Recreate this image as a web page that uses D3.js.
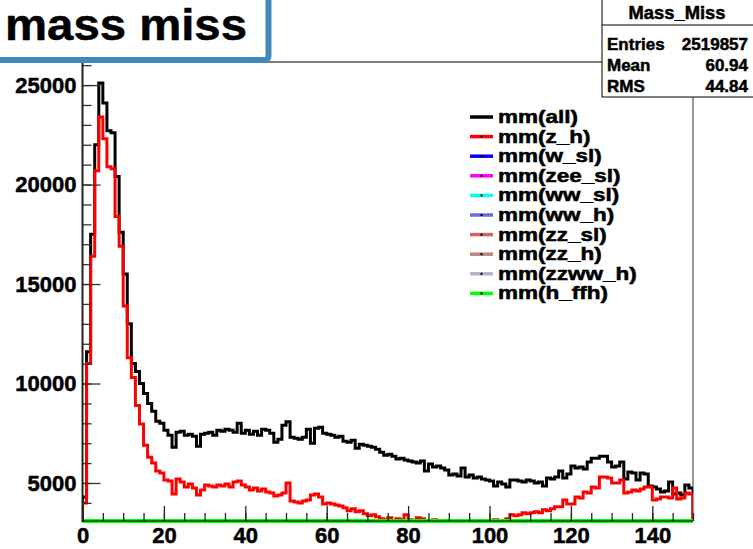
<!DOCTYPE html>
<html><head><meta charset="utf-8">
<script src="https://cdn.jsdelivr.net/npm/d3@7"></script>
<style>
html,body{margin:0;padding:0;background:#fff;}
svg{display:block;}
text{font-family:"Liberation Sans",Arial,Helvetica,sans-serif;font-weight:bold;}
.heavy{stroke:#000;stroke-width:0.5px;paint-order:stroke;}
</style></head>
<body>
<svg id="chart" width="753" height="549"></svg>
<script>
// ---- data ----
const xTicks = [0, 20, 40, 60, 80, 100, 120, 140];
const yTicks = [5000, 10000, 15000, 20000, 25000];
const xDomain = [0, 150];     // 150 bins of width 1
const yDomain = [3090, 26160];

const mmAll = [4300,11600,17500,22000,25100,24100,22700,22600,20400,17600,
15500,13000,11000,10600,10000,9500,9000,8600,8100,8000,
7650,7400,6800,7550,7600,7400,7450,7350,6850,7450,
7500,7550,7400,7650,7600,7700,7650,7550,8000,7500,
7650,7450,7600,7400,7700,7650,7500,7050,7200,7900,
8080,7300,7250,7200,7300,7700,7000,7750,7800,7500,
7450,7400,7300,7350,7100,7050,7150,6750,6950,6900,
6850,6800,6700,6550,6400,6450,6350,6200,6250,6150,
6100,6050,6000,6100,5600,5950,5800,5850,5750,5650,
5400,5450,5350,5750,5300,5400,5250,5300,5200,5150,
5100,4850,5050,4950,4800,5150,5150,5100,5050,5150,
5100,5000,5050,4850,5250,5200,5300,5600,5250,5450,
5850,5750,5800,5700,6050,6250,6250,6350,6350,6050,
5800,5850,6050,5200,5550,5500,5150,5500,5450,4850,
4800,4700,4550,4600,5050,4450,4500,4400,4900,4750];

const mmZH = [4000,11000,16400,20700,23400,22300,20900,20800,18400,16900,
13900,11300,10300,8900,7960,6900,6300,6000,5600,5500,
5150,5100,4450,5200,5050,4800,4950,4750,4400,4650,
4900,4850,4800,4900,4850,4950,4800,5050,5100,4900,
4800,4650,4750,4600,4700,4550,4500,4350,4400,4500,
5000,4100,4050,4000,4100,4150,4400,4450,4300,3950,
4000,3950,3900,3850,3750,3600,3700,3550,3600,3450,
3350,3400,3300,3200,3150,3250,3100,3200,3150,3400,
3150,3100,3250,3200,3100,3050,3150,3050,3000,2950,
2900,2900,2850,2900,2850,2900,2950,2900,3000,2950,
3000,3150,3100,3050,3200,3400,3350,3400,3500,3450,
3500,3550,3500,3650,3600,3700,3800,3800,4150,3950,
3950,4300,4250,4550,4500,4800,4750,5300,5300,5250,
5000,5000,5150,4500,4550,4650,4600,4700,4800,4800,
4150,4200,4300,4300,4250,4750,4200,4250,4500,4450];

// The remaining samples lie entirely below the visible y range (unreadable, drawn clamped at the bottom edge)
const belowRange = [0,0,0,0,0,0,0,0,0,0,0,0,0,0,0,0,0,0,0,0,0,0,0,0,0,0,0,0,0,0,
0,0,0,0,0,0,0,0,0,0,0,0,0,0,0,0,0,0,0,0,0,0,0,0,0,0,0,0,0,0,
0,0,0,0,0,0,0,0,0,0,0,0,0,0,0,0,0,0,0,0,0,0,0,0,0,0,0,0,0,0,
0,0,0,0,0,0,0,0,0,0,0,0,0,0,0,0,0,0,0,0,0,0,0,0,0,0,0,0,0,0,
0,0,0,0,0,0,0,0,0,0,0,0,0,0,0,0,0,0,0,0,0,0,0,0,0,0,0,0,0,0];

const seriesNames = ["mm(all)","mm(z_h)","mm(w_sl)","mm(zee_sl)","mm(ww_sl)","mm(ww_h)","mm(zz_sl)","mm(zz_h)","mm(zzww_h)","mm(h_ffh)"];
const seriesColors = ["#000000","#ff0000","#0000ff","#ff00ff","#00ffff","#6b6be0","#cc6666","#bb8880","#b4b4cc","#00ff00"];
const seriesValues = [mmAll, mmZH, belowRange, belowRange, belowRange, belowRange, belowRange, belowRange, belowRange, belowRange];

const statsTitle = "Mass_Miss";
const statsLabels = ["Entries", "Mean", "RMS"];
const statsValues = ["2519857", "60.94", "44.84"];
const titleText = "mass miss";

// ---- drawing ----
const svg = d3.select("#chart");
const L = 82.5, R = 693, T = 62, B = 521;
const x = d3.scaleLinear().domain(xDomain).range([L, R]);
const y = d3.scaleLinear().domain(yDomain).range([B, T]);

svg.append("rect").attr("width",753).attr("height",549).attr("fill","#fff");

svg.append("defs").append("clipPath").attr("id","clip")
  .append("rect").attr("x",L).attr("y",T-2).attr("width",R-L).attr("height",B-T+4);

// frame
svg.append("line").attr("x1",L).attr("x2",R).attr("y1",T).attr("y2",T).attr("stroke","#000").attr("stroke-width",1);
svg.append("line").attr("x1",R).attr("x2",R).attr("y1",T).attr("y2",B).attr("stroke","#777").attr("stroke-width",1.5);

function stepPath(vals){
  const [lo, hi] = yDomain;
  const c = v => y(Math.max(lo, Math.min(hi, v)));
  let p = `M${x(0)},${y(lo)}`;
  vals.forEach((v,i)=>{ p += `L${x(i)},${c(v)}L${x(i+1)},${c(v)}`; });
  p += `L${x(vals.length)},${y(lo)}`;
  return p;
}

const gH = svg.append("g").attr("clip-path","url(#clip)");
seriesValues.forEach((vals, k)=>{
  gH.append("path").attr("d", stepPath(vals)).attr("fill","none")
    .attr("stroke", seriesColors[k]).attr("stroke-width", k===9 ? 4 : 3)
    .attr("stroke-linejoin","miter");
});

const fontFam = "'Liberation Sans',Arial,sans-serif";
// y axis
const yMinor = d3.range(4000, 26001, 1000);
svg.append("g").attr("transform",`translate(${L},0)`)
  .call(d3.axisLeft(y).tickValues(yMinor).tickSize(-9).tickSizeOuter(0).tickFormat(""))
  .call(g=>g.select(".domain").remove())
  .call(g=>g.selectAll(".tick line").attr("stroke","#333").attr("stroke-width",1.3));
svg.append("g").attr("transform",`translate(${L},0)`)
  .call(d3.axisLeft(y).tickValues(yTicks).tickSize(-18).tickSizeOuter(0).tickPadding(6).tickFormat(d3.format("d")))
  .call(g=>g.select(".domain").remove())
  .call(g=>g.selectAll(".tick line").attr("stroke","#333").attr("stroke-width",1.3))
  .call(g=>g.selectAll(".tick text").attr("fill","#000").attr("font-size",22).attr("class","heavy")
      .attr("font-family",fontFam).attr("font-weight","bold"));
svg.append("line").attr("x1",L).attr("x2",L).attr("y1",T).attr("y2",B+1).attr("stroke","#222").attr("stroke-width",2);

// x axis
const xMinor = d3.range(0, 151, 5);
svg.append("g").attr("transform",`translate(0,${B})`)
  .call(d3.axisBottom(x).tickValues(xMinor).tickSize(-8).tickSizeOuter(0).tickFormat(""))
  .call(g=>g.select(".domain").remove())
  .call(g=>g.selectAll(".tick line").attr("stroke","#222").attr("stroke-width",1.3));
svg.append("g").attr("transform",`translate(0,${B})`)
  .call(d3.axisBottom(x).tickValues(xTicks).tickSize(-15).tickSizeOuter(0).tickPadding(6).tickFormat(d3.format("d")))
  .call(g=>g.select(".domain").remove())
  .call(g=>g.selectAll(".tick line").attr("stroke","#222").attr("stroke-width",1.3))
  .call(g=>g.selectAll(".tick text").attr("fill","#000").attr("font-size",22).attr("class","heavy")
      .attr("font-family",fontFam).attr("font-weight","bold"));
svg.append("line").attr("x1",L).attr("x2",R).attr("y1",B).attr("y2",B).attr("stroke","#000").attr("stroke-width",1);
gH.append("path").attr("d", stepPath(seriesValues[9])).attr("fill","none").attr("stroke",seriesColors[9]).attr("stroke-width",4);

// legend (glyphs wide and squat, as in the reference)
const lg = svg.append("g");
seriesNames.forEach((name,k)=>{
  const yy = 117 + k*19.6;
  lg.append("line").attr("x1",470).attr("x2",493).attr("y1",yy).attr("y2",yy)
    .attr("stroke",seriesColors[k]).attr("stroke-width",3.5);
  if(k>0) lg.append("rect").attr("x",480.5).attr("y",yy-1).attr("width",2).attr("height",2).attr("fill","#000");
  const t = lg.append("text").attr("x",498).attr("y",yy+6).attr("font-size",22.5).attr("fill","#000").text(name);
  const w = t.node().getComputedTextLength();
  t.attr("font-size",17.5).attr("class","heavy").attr("textLength",w).attr("lengthAdjust","spacingAndGlyphs");
});

// title box
svg.append("rect").attr("x",-10).attr("y",-10).attr("width",278.5).attr("height",70).attr("rx",4)
  .attr("fill","#fff").attr("stroke","#4288b9").attr("stroke-width",6);
svg.append("text").attr("x",5).attr("y",40).attr("font-size",44).attr("fill","#000").attr("class","heavy")
  .attr("textLength",242).attr("lengthAdjust","spacingAndGlyphs").text(titleText);

// stats box
const sb = svg.append("g");
sb.append("rect").attr("x",602).attr("y",-1).attr("width",160).attr("height",98)
  .attr("fill","#fff").attr("stroke","#000").attr("stroke-width",1);
sb.append("line").attr("x1",602).attr("x2",753).attr("y1",25).attr("y2",25).attr("stroke","#000");
sb.append("text").attr("x",677).attr("y",19).attr("text-anchor","middle").attr("font-size",18).attr("class","heavy")
  .attr("textLength",97).attr("lengthAdjust","spacingAndGlyphs").text(statsTitle);
const rowY = [50, 71, 92];
statsLabels.forEach((lab,i)=>{
  sb.append("text").attr("x",607).attr("y",rowY[i]).attr("font-size",17).attr("class","heavy").text(lab);
  sb.append("text").attr("x",748).attr("y",rowY[i]).attr("text-anchor","end").attr("font-size",17).attr("class","heavy").text(statsValues[i]);
});
</script>
</body></html>
